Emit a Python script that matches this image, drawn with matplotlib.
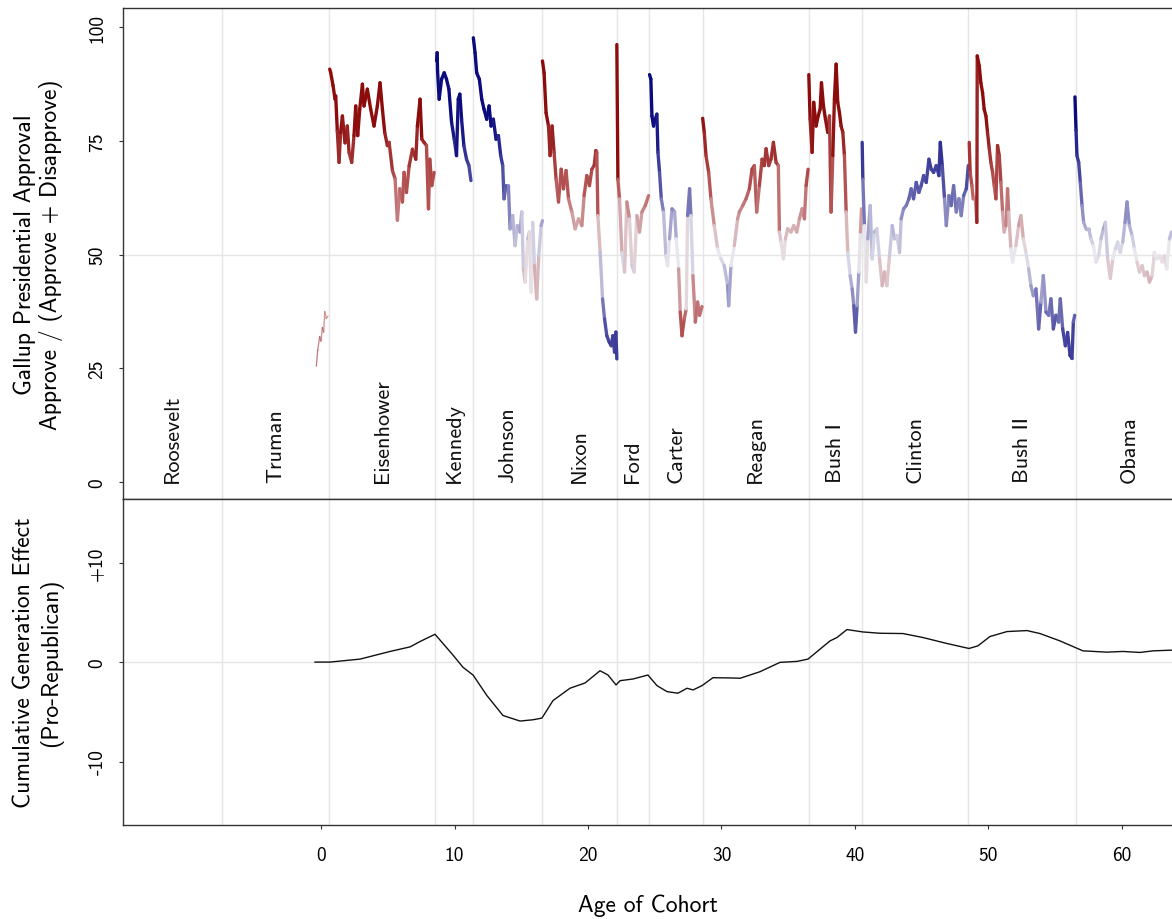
import numpy as np
import matplotlib.pyplot as plt
from matplotlib.collections import LineCollection
from matplotlib.colors import LinearSegmentedColormap, Normalize

plt.rcParams["font.family"] = ["cmss10", "DejaVu Sans"]
plt.rcParams["axes.unicode_minus"] = False

# presidents, party and the age of the cohort when each term starts
presidents = ["Roosevelt", "Truman", "Eisenhower", "Kennedy", "Johnson", "Nixon", "Ford",
              "Carter", "Reagan", "Bush I", "Clinton", "Bush II", "Obama"]
party = ["D", "D", "R", "D", "D", "R", "R", "D", "R", "R", "D", "R", "D"]
term_start = [None, -7.45, 0.6, 8.54, 11.39, 16.55, 22.17, 24.57, 28.6, 36.55, 40.5, 48.5, 56.55]
last_term_end = 64.55

# Gallup approval / (approve + disapprove)
truman_age = [-0.35, -0.25, -0.1, 0.0, 0.1, 0.2, 0.28, 0.4, 0.52]
truman_val = [25.5, 29, 32, 31, 34, 33, 37.5, 36, 36.5]

eisenhower_age = [0.65, 0.72, 0.9, 1.05, 1.1, 1.22, 1.35, 1.47, 1.6, 1.8, 1.97, 2.1, 2.3, 2.47,
                  2.6, 2.75, 2.9, 3.1, 3.22, 3.47, 3.72, 3.97, 4.22, 4.42, 4.6, 4.77, 4.97, 5.1,
                  5.35, 5.55, 5.72, 5.9, 6.1, 6.22, 6.4, 6.6, 6.85, 7.1, 7.22, 7.42, 7.55, 7.72,
                  7.9, 8.05, 8.15, 8.3, 8.47]
eisenhower_val = [90.8, 90.1, 87.2, 84.2, 84.9, 77.2, 70.3, 76.9, 80.5, 74.6, 78.3, 72.5, 70.3,
                  76.2, 82.7, 76.2, 82.0, 87.5, 82.7, 86.4, 82.0, 78.3, 82.7, 87.8, 82.0, 76.9,
                  74.0, 74.7, 68.5, 66.7, 57.6, 64.5, 61.6, 68.1, 63.7, 69.5, 73.2, 71.0, 78.3,
                  84.2, 75.4, 74.7, 74.0, 60.1, 71.0, 65.2, 68.1]

kennedy_age = [8.66, 8.7, 8.73, 8.85, 9.03, 9.23, 9.4, 9.58, 9.78, 9.98, 10.15, 10.28, 10.4,
               10.53, 10.7, 10.9, 11.08, 11.23]
kennedy_val = [92.6, 94.4, 90.4, 84.2, 88.6, 90.0, 88.6, 86.4, 79.1, 75.4, 71.8, 84.2, 85.3,
               79.8, 74.0, 71.0, 69.6, 66.3]

johnson_age = [11.41, 11.54, 11.66, 11.86, 12.04, 12.21, 12.41, 12.59, 12.74, 12.91, 13.11,
               13.29, 13.46, 13.61, 13.71, 13.86, 14.04, 14.16, 14.36, 14.54, 14.71, 14.91,
               15.04, 15.16, 15.29, 15.49, 15.61, 15.74, 15.86, 15.99, 16.16, 16.31, 16.49, 16.59]
johnson_val = [97.7, 94.4, 90.0, 88.6, 84.2, 82.0, 79.8, 82.7, 78.3, 79.8, 75.4, 76.2, 71.8,
               69.6, 62.3, 65.2, 65.2, 55.7, 58.6, 52.0, 56.4, 55.0, 59.4, 46.9, 44.0, 53.5,
               55.0, 41.8, 57.1, 47.6, 40.3, 49.8, 56.4, 57.5]

nixon_age = [16.59, 16.71, 16.86, 17.04, 17.16, 17.31, 17.46, 17.61, 17.79, 17.99, 18.16,
             18.36, 18.54, 18.79, 19.04, 19.29, 19.54, 19.71, 19.91, 20.11, 20.29, 20.46,
             20.59, 20.66, 20.74, 20.91, 21.09, 21.24, 21.41, 21.59, 21.74, 21.86, 21.99,
             22.09, 22.16]
nixon_val = [92.6, 90.0, 81.2, 78.3, 71.8, 78.3, 72.5, 66.6, 61.6, 68.8, 64.5, 68.5, 62.3,
             59.4, 55.7, 57.9, 56.4, 63.0, 67.4, 65.2, 68.8, 69.6, 72.9, 72.5, 58.6, 50.5,
             40.3, 35.9, 32.2, 30.8, 30.0, 32.2, 28.6, 33.0, 27.1]

ford_age = [22.16, 22.24, 22.36, 22.54, 22.74, 22.91, 23.11, 23.29, 23.46, 23.66, 23.86,
            24.04, 24.29, 24.54]
ford_val = [96.2, 66.6, 62.3, 50.5, 46.2, 61.6, 57.9, 47.6, 46.2, 58.6, 55.0, 59.4, 60.8, 63.0]

carter_age = [24.61, 24.71, 24.79, 24.91, 25.04, 25.16, 25.24, 25.36, 25.49, 25.66, 25.84,
              25.96, 26.11, 26.29, 26.49, 26.61, 26.79, 26.91, 27.04, 27.21, 27.36, 27.46,
              27.61, 27.71, 27.86, 28.04, 28.21, 28.36, 28.54]
carter_val = [89.6, 88.6, 80.5, 78.3, 79.8, 80.9, 72.5, 68.1, 62.3, 59.4, 49.8, 47.6, 53.5,
              60.1, 59.4, 53.5, 46.9, 37.4, 32.2, 35.9, 38.1, 58.6, 64.5, 58.6, 45.4, 35.2,
              39.6, 36.7, 38.6]

reagan_age = [28.59, 28.71, 28.84, 29.04, 29.21, 29.46, 29.71, 29.96, 30.21, 30.46, 30.54,
              30.71, 30.96, 31.21, 31.34, 31.59, 31.84, 32.09, 32.29, 32.46, 32.64, 32.84,
              33.04, 33.21, 33.34, 33.54, 33.71, 33.89, 34.09, 34.26, 34.34, 34.46, 34.64,
              34.79, 34.96, 35.21, 35.41, 35.64, 35.84, 36.04, 36.21, 36.34, 36.49]
reagan_val = [80.0, 76.9, 71.8, 68.1, 62.3, 56.4, 51.3, 49.1, 47.6, 43.2, 38.8, 47.6, 52.0,
              57.9, 59.4, 60.8, 62.3, 64.5, 68.8, 69.6, 59.4, 65.2, 71.0, 69.6, 73.3, 69.6,
              71.0, 74.7, 70.3, 69.6, 55.0, 52.8, 49.1, 53.5, 55.7, 55.0, 56.4, 55.0, 57.9,
              60.1, 57.9, 65.2, 68.8]

bush1_age = [36.54, 36.64, 36.79, 36.91, 37.09, 37.24, 37.39, 37.49, 37.64, 37.79, 37.96,
             38.09, 38.21, 38.34, 38.46, 38.59, 38.71, 38.84, 38.96, 39.09, 39.21, 39.34,
             39.46, 39.64, 39.79, 39.91, 40.04, 40.16, 40.29, 40.41, 40.49]
bush1_val = [89.6, 79.8, 72.5, 83.5, 78.3, 80.5, 82.0, 87.8, 82.7, 79.8, 76.9, 80.5, 59.4,
             71.8, 84.2, 91.9, 83.5, 81.2, 78.3, 76.9, 71.8, 59.4, 50.5, 45.4, 42.5, 38.8,
             33.0, 38.8, 46.2, 55.0, 60.1]

clinton_age = [40.54, 40.59, 40.71, 40.84, 40.96, 41.14, 41.29, 41.46, 41.64, 41.84, 42.04,
               42.21, 42.39, 42.59, 42.79, 42.96, 43.14, 43.34, 43.46, 43.64, 43.84, 44.04,
               44.21, 44.39, 44.59, 44.79, 44.96, 45.14, 45.34, 45.54, 45.71, 45.89, 46.09,
               46.29, 46.39, 46.54, 46.71, 46.84, 47.04, 47.21, 47.39, 47.59, 47.79, 47.96,
               48.14, 48.34, 48.49]
clinton_val = [74.7, 66.6, 56.4, 44.0, 53.5, 60.8, 49.1, 55.0, 55.7, 49.1, 43.2, 46.2, 43.2,
               49.8, 56.4, 53.5, 54.2, 50.5, 57.9, 60.1, 60.8, 62.3, 64.5, 62.3, 65.9, 63.7,
               65.2, 67.4, 65.9, 71.0, 68.8, 68.1, 69.6, 67.4, 74.7, 69.6, 62.3, 56.4, 63.0,
               60.8, 65.2, 59.4, 62.3, 58.6, 63.0, 64.5, 69.6]

bush2_age = [48.56, 48.63, 48.76, 48.86, 49.01, 49.13, 49.16, 49.31, 49.43, 49.56, 49.68,
             49.81, 49.93, 50.06, 50.18, 50.31, 50.43, 50.56, 50.68, 50.81, 50.93, 51.06,
             51.18, 51.31, 51.43, 51.51, 51.68, 51.81, 52.06, 52.26, 52.43, 52.61, 52.81,
             53.01, 53.18, 53.36, 53.56, 53.76, 53.93, 54.11, 54.31, 54.51, 54.68, 54.86,
             55.06, 55.26, 55.38, 55.56, 55.76, 55.93, 56.11, 56.26, 56.36, 56.46]
bush2_val = [74.7, 68.1, 65.2, 62.3, 62.6, 57.1, 93.7, 91.5, 87.8, 85.6, 82.0, 80.5, 76.9,
             73.3, 70.3, 68.1, 65.2, 62.3, 74.0, 71.8, 65.9, 59.4, 55.0, 56.4, 64.5, 59.4,
             51.3, 48.4, 52.0, 56.4, 58.6, 53.5, 50.5, 46.9, 43.2, 41.0, 42.5, 33.7, 39.6,
             45.4, 37.4, 36.7, 40.3, 33.7, 36.7, 35.2, 40.3, 33.7, 30.0, 32.9, 27.9, 27.2,
             35.2, 36.7]

obama_age = [56.48, 56.56, 56.63, 56.76, 56.88, 57.01, 57.13, 57.31, 57.51, 57.68, 57.86,
             58.06, 58.26, 58.43, 58.61, 58.76, 58.93, 59.13, 59.31, 59.51, 59.68, 59.86,
             60.06, 60.23, 60.38, 60.56, 60.76, 60.93, 61.13, 61.31, 61.51, 61.68, 61.88,
             62.06, 62.26, 62.43, 62.61, 62.81, 63.01, 63.18, 63.36, 63.56, 63.71]
obama_val = [84.7, 77.4, 71.8, 70.3, 65.9, 60.8, 57.1, 55.7, 55.7, 53.5, 52.0, 48.4, 49.8,
             53.5, 55.7, 57.1, 49.1, 44.8, 49.1, 51.3, 52.8, 50.5, 52.8, 57.1, 61.6, 56.4,
             54.2, 51.3, 48.4, 46.2, 47.6, 45.4, 46.2, 44.0, 45.4, 50.5, 49.1, 49.8, 48.4,
             49.8, 46.9, 53.5, 55.0]

approval = {
    "Truman": (truman_age, truman_val),
    "Eisenhower": (eisenhower_age, eisenhower_val),
    "Kennedy": (kennedy_age, kennedy_val),
    "Johnson": (johnson_age, johnson_val),
    "Nixon": (nixon_age, nixon_val),
    "Ford": (ford_age, ford_val),
    "Carter": (carter_age, carter_val),
    "Reagan": (reagan_age, reagan_val),
    "Bush I": (bush1_age, bush1_val),
    "Clinton": (clinton_age, clinton_val),
    "Bush II": (bush2_age, bush2_val),
    "Obama": (obama_age, obama_val),
}

# cumulative generation effect (pro-Republican)
effect_age = [-0.45, 0.67, 2.92, 5.17, 6.67, 7.42, 8.54, 9.89, 10.64, 11.39, 12.43, 13.63,
              14.91, 15.88, 16.55, 17.38, 18.65, 19.78, 20.9, 21.5, 22.1, 22.4, 23.37, 24.49,
              25.17, 25.92, 26.74, 27.42, 27.87, 28.54, 29.36, 30.86, 31.39, 32.88, 34.38,
              35.66, 36.48, 38.13, 38.65, 39.4, 40.6, 41.87, 43.6, 45.09, 46.89, 48.54, 49.21,
              50.11, 51.39, 52.88, 53.86, 55.36, 57.08, 58.88, 60.07, 61.35, 62.32, 63.75]
effect_val = [0.0, 0.0, 0.3, 1.07, 1.53, 2.07, 2.8, 0.7, -0.53, -1.3, -3.37, -5.37, -5.93,
              -5.8, -5.63, -3.87, -2.63, -2.1, -0.87, -1.3, -2.3, -1.87, -1.7, -1.3, -2.37,
              -2.97, -3.13, -2.63, -2.8, -2.37, -1.57, -1.6, -1.63, -0.97, -0.03, 0.07, 0.3,
              2.13, 2.47, 3.27, 3.03, 2.9, 2.87, 2.47, 1.87, 1.37, 1.63, 2.57, 3.07, 3.17,
              2.87, 2.13, 1.13, 1.0, 1.07, 0.97, 1.13, 1.2]

cmap = LinearSegmentedColormap.from_list(
    "party", ["#0b0b7e", "#5656a8", "#e9e8ee", "#b65656", "#8c0c0c"])
norm = Normalize(20, 80)

fig = plt.figure(figsize=(11.72, 9.2), dpi=100)
ax1 = fig.add_axes([0.105, 0.4565, 0.895, 0.5335])
ax2 = fig.add_axes([0.105, 0.102, 0.895, 0.3545], sharex=ax1)

xmin, xmax = -14.83, 63.75
grid_c = "#e5e5e5"
spine_c = "#333333"

for ax in (ax1, ax2):
    for t in term_start[1:]:
        ax.axvline(t, color=grid_c, lw=1, zorder=0)
    ax.spines["right"].set_visible(False)
    for s in ("left", "top", "bottom"):
        ax.spines[s].set_color(spine_c)
        ax.spines[s].set_linewidth(1.0)
    ax.tick_params(axis="y", length=3, color=spine_c, labelsize=14, pad=9)

ax1.axhline(50, color=grid_c, lw=1, zorder=0)
ax2.axhline(0, color=grid_c, lw=1, zorder=0)

# approval traces, coloured by pro-Republican score
for name, p in zip(presidents, party):
    if name not in approval:
        continue
    age, val = approval[name]
    age = np.asarray(age, float)
    val = np.asarray(val, float)
    score = val if p == "R" else 100 - val
    pts = np.column_stack([age, val])
    segs = np.stack([pts[:-1], pts[1:]], axis=1)
    seg_score = (score[:-1] + score[1:]) / 2
    lw = 1.0 if name == "Truman" else 2.4
    lc = LineCollection(segs, colors=cmap(norm(seg_score)), linewidths=lw,
                        capstyle="round", joinstyle="round", zorder=2,
                        alpha=0.6 if name == "Truman" else 1.0)
    ax1.add_collection(lc)

# president labels at the middle of each term
bounds = [xmin] + term_start[1:] + [last_term_end]
for i, name in enumerate(presidents):
    mid = (bounds[i] + bounds[i + 1]) / 2
    ax1.text(mid, 0, name, rotation=90, ha="center", va="bottom", fontsize=16,
             color="#111111")

ax1.set_xlim(xmin, xmax)
ax1.set_ylim(-3.7, 104.2)
ax1.set_yticks([0, 25, 50, 75, 100])
ax1.set_yticklabels(["0", "25", "50", "75", "100"], rotation=90, va="center")
ax1.tick_params(axis="x", bottom=False, labelbottom=False)
ax1.set_ylabel("Gallup Presidential Approval\nApprove / (Approve + Disapprove)",
               fontsize=17, linespacing=1.2)
ax1.yaxis.set_label_coords(-0.057, 0.5)

ax2.plot(effect_age, effect_val, color="#111111", lw=1.0, zorder=2)
ax2.set_ylim(-16.4, 16.4)
ax2.set_yticks([-10, 0, 10])
ax2.set_yticklabels(["-10", "0", "+10"], rotation=90, va="center")
ax2.set_xticks([0, 10, 20, 30, 40, 50, 60])
ax2.set_xticklabels(["0", "10", "20", "30", "40", "50", "60"])
ax2.tick_params(axis="x", length=3, color=spine_c, labelsize=14, pad=12)
ax2.set_xlabel("Age of Cohort", fontsize=17)
ax2.xaxis.set_label_coords(0.5, -0.21)
ax2.set_ylabel("Cumulative Generation Effect\n(Pro-Republican)", fontsize=17,
               linespacing=1.2)
ax2.yaxis.set_label_coords(-0.057, 0.5)

fig.savefig("out.png", dpi=100)
